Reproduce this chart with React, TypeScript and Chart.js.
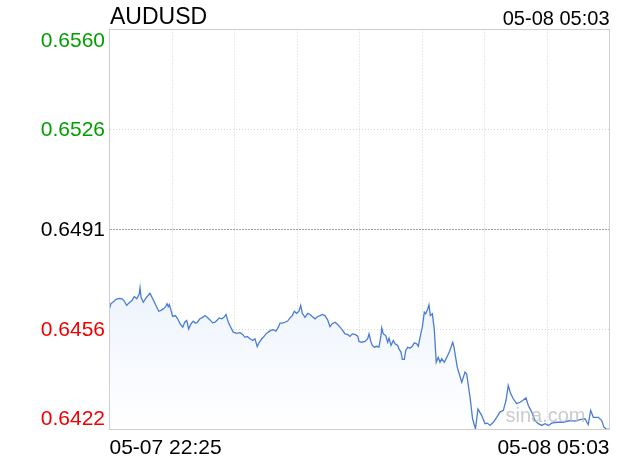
import React, { useEffect, useRef } from "react";
import { Chart, registerables } from "chart.js";

Chart.register(...registerables);

const SYMBOL = "AUDUSD";
const START_LABEL = "05-07 22:25";
const END_LABEL = "05-08 05:03";
const WATERMARK = "sina.com";
const SESSION_MINUTES = 398;
const PREV_CLOSE = 0.6491;
const Y_TICKS = [0.6422, 0.64565, 0.6491, 0.65255, 0.656];
const Y_TICK_LABELS = ["0.6422", "0.6456", "0.6491", "0.6526", "0.6560"];

// minutes after 05-07 22:25
const MINUTES = [
  0, 1.2, 2.5, 5.2, 7.8, 10.0, 11.8, 13.7, 15.3, 17.9, 19.7, 21.7, 23.7, 24.3, 25.1, 26.9, 29.1, 32.2, 34.4, 37.0,
  39.2, 41.0, 42.8, 44.4, 45.8, 46.8, 47.6, 49.0, 50.3, 52.4, 54.3, 56.1, 58.3, 59.9, 61.5, 63.0, 64.9, 66.7, 68.3, 69.9,
  72.0, 74.2, 76.0, 77.8, 80.0, 82.1, 84.0, 85.8, 87.4, 89.3, 91.1, 92.7, 94.6, 96.5, 98.5, 101.3, 103.9, 106.0, 107.9, 109.7,
  111.8, 114.0, 115.8, 117.6, 119.2, 121.2, 122.4, 124.6, 126.4, 128.3, 130.4, 132.5, 134.4, 135.7, 137.5, 139.7, 141.8, 143.7, 145.5, 147.1,
  149.0, 150.8, 152.2, 153.5, 155.6, 157.8, 159.6, 161.4, 163.6, 165.7, 167.6, 169.4, 171.5, 173.7, 175.5, 177.3, 179.5, 181.6, 183.5, 185.3,
  187.5, 189.6, 191.4, 193.3, 195.4, 197.6, 198.6, 200.7, 203.4, 205.5, 206.6, 208.2, 209.2, 210.8, 212.7, 214.5, 216.1, 216.7, 217.9, 219.9,
  221.4, 222.5, 224.1, 225.9, 227.3, 229.4, 230.4, 232.0, 233.1, 234.7, 235.8, 237.4, 239.2, 241.0, 242.6, 244.5, 245.8, 247.2, 249.0, 250.6,
  251.7, 253.3, 254.3, 255.4, 257.0, 258.5, 260.1, 261.7, 263.1, 264.4, 266.5, 270.5, 273.2, 274.2, 276.8, 280.4, 283.0, 284.3, 287.0, 289.0,
  291.3, 293.3, 296.3, 298.9, 300.7, 302.9, 305.5, 308.2, 310.8, 313.5, 315.6, 317.4, 319.4, 321.4, 324.1, 326.8, 328.9, 331.5, 333.4, 336.1,
  338.7, 341.3, 344.0, 346.7, 349.3, 352.0, 356.0, 361.2, 366.6, 370.5, 374.5, 378.5, 381.1, 383.0, 385.1, 389.1, 391.8, 393.6, 395.8, 397.8,
];

const PRICES = [
  0.64637, 0.64655, 0.64658, 0.64669, 0.64672, 0.64671, 0.64663, 0.64648, 0.64656, 0.64665, 0.64679, 0.64671, 0.64688, 0.64709, 0.64676, 0.64659, 0.64674, 0.6469, 0.64671, 0.64648,
  0.64628, 0.64631, 0.64636, 0.64642, 0.64654, 0.64644, 0.64651, 0.64631, 0.6461, 0.64613, 0.64602, 0.64585, 0.64573, 0.6459, 0.64596, 0.64567, 0.64585, 0.64594, 0.64587, 0.6459,
  0.64602, 0.64607, 0.64613, 0.64607, 0.64598, 0.64588, 0.6459, 0.64598, 0.64605, 0.64602, 0.64607, 0.64617, 0.6459, 0.64573, 0.64556, 0.64552, 0.64554, 0.64548, 0.64538, 0.64541,
  0.64533, 0.64527, 0.64533, 0.64506, 0.64521, 0.64533, 0.64538, 0.6455, 0.64556, 0.64562, 0.64564, 0.64559, 0.64573, 0.64587, 0.64587, 0.6459, 0.64594, 0.64605, 0.64613, 0.64628,
  0.64621, 0.64628, 0.64648, 0.64621, 0.64607, 0.64621, 0.64617, 0.6461, 0.64602, 0.6461, 0.64613, 0.64617, 0.64613, 0.64598, 0.64575, 0.64585, 0.6459, 0.64582, 0.64573, 0.64564,
  0.6455, 0.64548, 0.64541, 0.6455, 0.64548, 0.64542, 0.64524, 0.64521, 0.64524, 0.64533, 0.6455, 0.64521, 0.6451, 0.64504, 0.64507, 0.64504, 0.64544, 0.6457, 0.6455, 0.64544,
  0.64521, 0.64535, 0.6451, 0.64527, 0.64516, 0.6451, 0.64498, 0.64487, 0.64462, 0.64462, 0.64493, 0.64504, 0.645, 0.64507, 0.64519, 0.64516, 0.64507, 0.64538, 0.64573, 0.64625,
  0.64619, 0.64636, 0.6465, 0.64613, 0.64619, 0.64567, 0.64452, 0.64469, 0.64452, 0.64464, 0.64452, 0.64487, 0.64521, 0.64504, 0.64435, 0.64383, 0.64418, 0.64412, 0.64331, 0.64257,
  0.64222, 0.64291, 0.64268, 0.6424, 0.64242, 0.64234, 0.64245, 0.64262, 0.6428, 0.64286, 0.6432, 0.64372, 0.64343, 0.64326, 0.64309, 0.64314, 0.6432, 0.64329, 0.64303, 0.6428,
  0.64251, 0.6424, 0.64234, 0.6424, 0.64234, 0.64242, 0.64245, 0.64245, 0.64251, 0.64249, 0.64254, 0.64257, 0.64237, 0.64286, 0.64262, 0.64262, 0.64251, 0.64228, 0.6422, 0.64221,
];

const FONT = "'Liberation Sans', Arial, Helvetica, sans-serif";
const GREEN = "#00a000";
const RED = "#f00000";
const BLACK = "#000000";

const framePlugin = {
  id: "frameAndTexts",
  afterDatasetsDraw(chart: any) {
    const ctx = chart.ctx;
    const { right, bottom } = chart.chartArea;
    ctx.save();
    ctx.fillStyle = "rgba(190,190,190,0.8)";
    ctx.font = `20px ${FONT}`;
    ctx.textAlign = "right";
    ctx.textBaseline = "alphabetic";
    ctx.fillText(WATERMARK, right - 24, bottom - 8);
    ctx.restore();
  },
  afterDraw(chart: any) {
    const ctx = chart.ctx;
    const { left, right, top, bottom } = chart.chartArea;
    const yScale = chart.scales.y;
    ctx.save();
    ctx.strokeStyle = "#cfcfcf";
    ctx.lineWidth = 1;
    ctx.setLineDash([]);
    ctx.strokeRect(left, top, right - left, bottom - top);

    // title and times
    ctx.fillStyle = BLACK;
    ctx.textBaseline = "alphabetic";
    ctx.textAlign = "left";
    ctx.font = `23px ${FONT}`;
    ctx.fillText(SYMBOL, left + 0.5, 24);
    ctx.textAlign = "right";
    ctx.font = `20px ${FONT}`;
    ctx.fillText(END_LABEL, right, 25);
    ctx.font = `21px ${FONT}`;
    ctx.textAlign = "left";
    ctx.fillText(START_LABEL, left, 454);
    ctx.textAlign = "right";
    ctx.fillText(END_LABEL, right, 454);

    // y labels
    ctx.font = `21px ${FONT}`;
    ctx.textAlign = "right";
    Y_TICKS.forEach((v, i) => {
      const p = yScale.getPixelForValue(v);
      let y = p + 6.5;
      if (i === 0) y = p - 5;
      if (i === Y_TICKS.length - 1) y = p + 17;
      ctx.fillStyle = v > PREV_CLOSE + 1e-9 ? GREEN : v < PREV_CLOSE - 1e-9 ? RED : BLACK;
      ctx.fillText(Y_TICK_LABELS[i], left - 4.5, y);
    });
    ctx.restore();
  },
};

export default function App() {
  const ref = useRef<HTMLCanvasElement | null>(null);

  useEffect(() => {
    const canvas = ref.current;
    if (!canvas) return;
    const points = MINUTES.map((m, i) => ({ x: m, y: PRICES[i] }));
    const chart = new Chart(canvas, {
      type: "line",
      data: {
        datasets: [
          {
            data: points,
            borderColor: "#4a7cd4",
            borderWidth: 1.3,
            pointRadius: 0,
            tension: 0,
            fill: "start",
            backgroundColor: (c: any) => {
              const area = c.chart.chartArea;
              if (!area) return "rgba(230,239,252,0.6)";
              const g = c.chart.ctx.createLinearGradient(0, area.top, 0, area.bottom);
              g.addColorStop(0, "#e4edfb");
              g.addColorStop(0.65, "#eef4fd");
              g.addColorStop(1, "#ffffff");
              return g;
            },
          },
        ],
      },
      options: {
        responsive: false,
        animation: false,
        events: [],
        layout: { padding: { left: 109.5, right: 10.5, top: 29.5, bottom: 30.5 } },
        plugins: { legend: { display: false }, tooltip: { enabled: false } },
        scales: {
          x: {
            type: "linear",
            min: 0,
            max: SESSION_MINUTES,
            afterBuildTicks: (axis: any) => {
              const t = [];
              for (let i = 0; i <= 8; i++) t.push({ value: (SESSION_MINUTES * i) / 8 });
              axis.ticks = t;
            },
            ticks: { display: false },
            grid: {
              drawTicks: false,
              lineWidth: 1,
              color: (c: any) => (c.index === 0 || c.index === 8 ? "rgba(0,0,0,0)" : "#d4d4d4"),
            },
            border: { display: false, dash: [1, 2] },
          },
          y: {
            type: "linear",
            min: Y_TICKS[0],
            max: Y_TICKS[Y_TICKS.length - 1],
            afterBuildTicks: (axis: any) => {
              axis.ticks = Y_TICKS.map((v) => ({ value: v }));
            },
            ticks: { display: false },
            grid: {
              drawTicks: false,
              lineWidth: 1,
              color: (c: any) => {
                if (c.index === 0 || c.index === Y_TICKS.length - 1) return "rgba(0,0,0,0)";
                return c.index === 2 ? "#a0a0a0" : "#d4d4d4";
              },
            },
            border: { display: false, dash: (c: any) => (c.index === 2 ? [2, 1] : [1, 2]) },
          },
        },
      },
      plugins: [framePlugin],
    } as any);
    return () => chart.destroy();
  }, []);

  return (
    <div style={{ position: "absolute", left: 0, top: 0, width: 620, height: 460, background: "#fff" }}>
      <canvas ref={ref} width={620} height={460} style={{ display: "block", width: 620, height: 460 }} />
    </div>
  );
}
